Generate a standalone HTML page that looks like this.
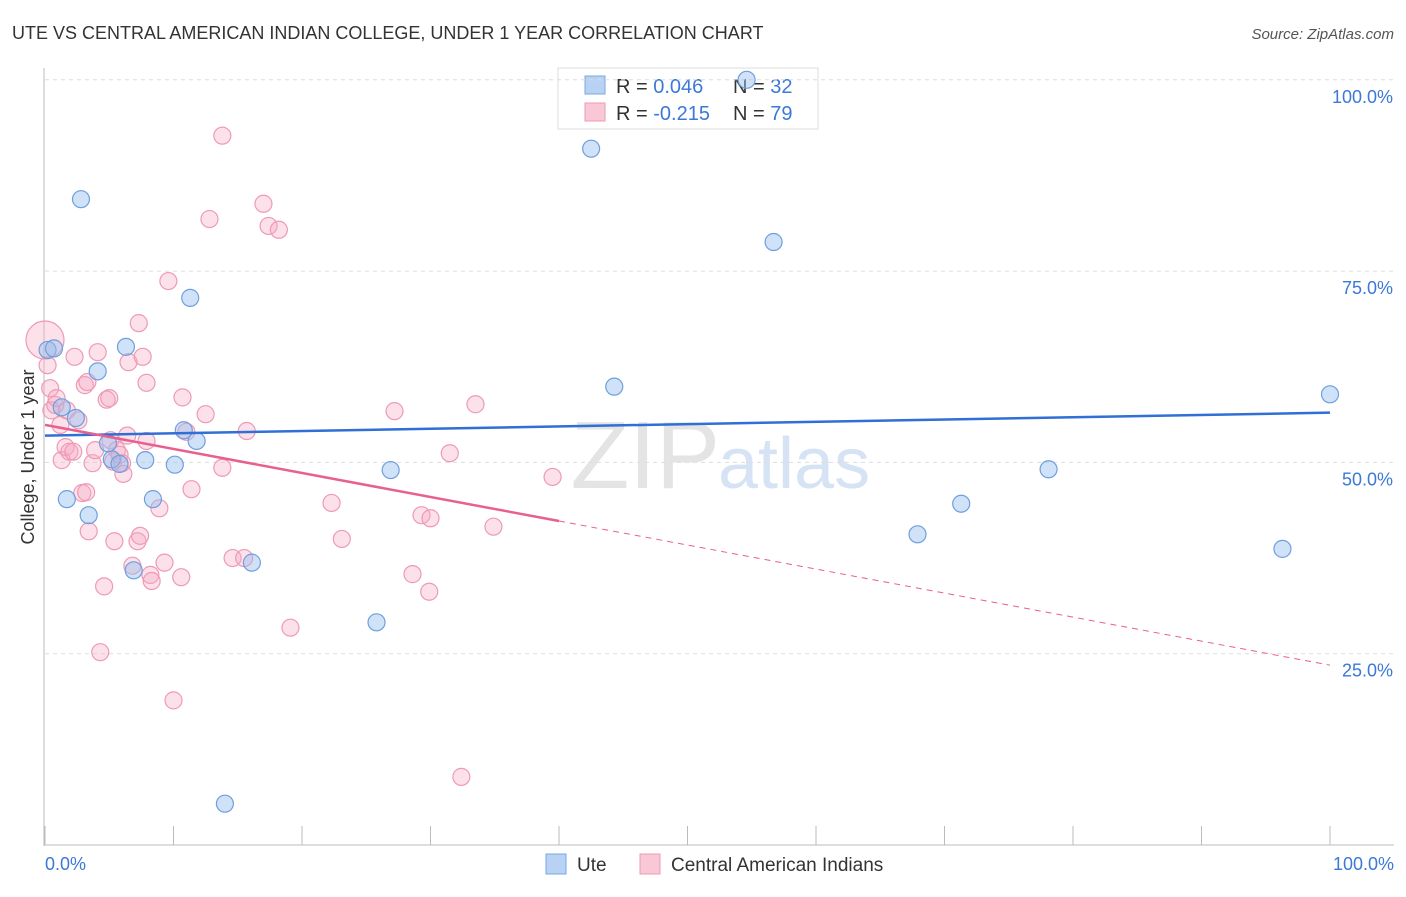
<!DOCTYPE html>
<html><head><meta charset="utf-8"><style>
body{margin:0;background:#fff;font-family:"Liberation Sans",sans-serif}
svg text{font-family:"Liberation Sans",sans-serif}
</style></head><body>
<svg id="chart" width="1406" height="892">
<text x="12" y="39" font-size="18" fill="#333">UTE VS CENTRAL AMERICAN INDIAN COLLEGE, UNDER 1 YEAR CORRELATION CHART</text>
<text x="1394" y="39" font-size="15" fill="#555" font-style="italic" text-anchor="end">Source: ZipAtlas.com</text>
<text x="720" y="488" font-size="96" fill="#e4e4e4" font-family="Liberation Serif" text-anchor="end">ZIP</text>
<text x="718" y="488" font-size="72" fill="#d6e3f5">atlas</text>
<g>
<rect x="558" y="68" width="260" height="61" fill="#fff" stroke="#ddd"/>
<rect x="585" y="76" width="20" height="18" fill="#b8d2f3" stroke="#7aa8e0"/>
<rect x="585" y="103" width="20" height="18" fill="#f8c8d7" stroke="#ee9ab5"/>
<text x="616" y="93" font-size="20" fill="#333">R = <tspan fill="#3b78d8">0.046</tspan></text>
<text x="733" y="93" font-size="20" fill="#333">N = <tspan fill="#3b78d8">32</tspan></text>
<text x="616" y="120" font-size="20" fill="#333">R = <tspan fill="#3b78d8">-0.215</tspan></text>
<text x="733" y="120" font-size="20" fill="#333">N = <tspan fill="#3b78d8">79</tspan></text>
</g>
<g id="grid"></g><g id="axes"></g><g id="pts"></g><g id="lines"></g>
<text transform="translate(34,457) rotate(-90)" font-size="18" fill="#333" text-anchor="middle">College, Under 1 year</text>
<g>
<rect x="546" y="854" width="20" height="20" fill="#b8d2f3" stroke="#7aa8e0"/>
<text x="577" y="871" font-size="19" fill="#333">Ute</text>
<rect x="640" y="854" width="20" height="20" fill="#f8c8d7" stroke="#ee9ab5"/>
<text x="671" y="871" font-size="19" fill="#333">Central American Indians</text>
</g>
</svg>
<script>
const uteX=[0.2,0.7,2.8,1.7,3.4,4.1,2.4,5.2,5.8,6.3,7.8,8.4,6.9,10.1,10.8,11.3,11.8,14.0,16.1,25.8,26.9,42.5,44.3,54.6,56.7,67.9,71.3,78.1,96.3,100,4.9,1.3];
const uteY=[64.7,64.9,84.4,45.2,43.1,61.9,55.8,50.4,49.8,65.1,50.3,45.2,35.9,49.7,54.2,71.5,52.8,5.4,36.9,29.1,49.0,91.0,59.9,100,78.8,40.6,44.6,49.1,38.7,58.9,52.5,57.2];
const caiX=[0,0.2,0.4,0.5,0.8,0.9,1.2,1.3,1.6,1.7,1.9,2.2,2.3,2.6,2.9,3.1,3.2,3.3,3.4,3.7,3.9,4.1,4.3,4.6,4.8,5.0,5.1,5.3,5.4,5.6,5.8,6.0,6.1,6.4,6.5,6.8,7.2,7.3,7.4,7.6,7.9,7.9,8.2,8.3,8.9,9.3,9.6,10.0,10.6,10.7,11.0,11.4,12.5,12.8,13.8,13.8,14.6,15.5,15.7,17.0,17.4,18.2,19.1,22.3,23.1,27.2,28.6,29.3,29.9,30.0,31.5,32.4,33.5,34.9,39.5];
const caiY=[66.0,62.7,59.7,56.8,57.5,58.4,54.9,50.3,52.0,56.8,51.4,51.4,63.8,55.5,46.0,60.1,46.1,60.5,41.0,49.9,51.6,64.4,25.2,33.8,58.2,58.4,52.9,50.1,39.7,51.6,51.0,49.9,48.5,53.5,63.1,36.5,39.7,68.2,40.4,63.8,52.8,60.4,35.3,34.5,44.0,36.9,73.7,18.9,35.0,58.5,54.0,46.5,56.3,81.8,92.7,49.3,37.5,37.5,54.1,83.8,80.9,80.4,28.4,44.7,40.0,56.7,35.4,43.1,33.1,42.7,51.2,8.9,57.6,41.6,48.1];
const yTicks=[25,50,75,100];
const yTickLabels=["25.0%","50.0%","75.0%","100.0%"];
const xTicks=[0,10,20,30,40,50,60,70,80,90,100];
const uteTrend=[53.5,56.5];
const caiTrend=[54.9,23.5];
const caiSolidEnd=40;
const NS="http://www.w3.org/2000/svg";
const sx=v=>45+v*12.85, sy=v=>845-v*7.652;
function mk(p,t,a){const e=document.createElementNS(NS,t);for(const k in a)e.setAttribute(k,a[k]);document.getElementById(p).appendChild(e);return e;}
yTicks.forEach((t,i)=>{
 const l=mk('grid','line',{x1:45,x2:1394,y1:sy(t),y2:sy(t),stroke:'#ddd','stroke-dasharray':'4,4'});
 
 
 const tx=mk('axes','text',{x:1393,y:sy(t)+23,'font-size':18,fill:'#3b78d8','text-anchor':'end'});
 tx.textContent=yTickLabels[i];
 
 
});
const ax=mk('axes','line',{x1:44,x2:44,y1:68,y2:846,stroke:'#bbb'});


const bx=mk('axes','line',{x1:44,x2:1394,y1:845,y2:845,stroke:'#bbb'});


xTicks.forEach(t=>{const l=mk('axes','line',{x1:sx(t),x2:sx(t),y1:826,y2:845,stroke:'#bbb'});
 
 });
[[0,'0.0%','start',45],[100,'100.0%','end',1394]].forEach(d=>{const t=mk('axes','text',{x:d[3],y:870,'font-size':18,fill:'#3b78d8','text-anchor':d[2]});t.textContent=d[1];
 
 });
caiX.forEach((x,i)=>{const c=mk('pts','circle',{cx:sx(x),cy:sy(caiY[i]),r:i==0?19:8.5,fill:'rgba(246,170,195,0.35)',stroke:'#ee9ab5','stroke-width':1.2});
 
 });
uteX.forEach((x,i)=>{const c=mk('pts','circle',{cx:sx(x),cy:sy(uteY[i]),r:8.5,fill:'rgba(150,190,240,0.45)',stroke:'#6f9fdd','stroke-width':1.2});
 
 });
const ul=mk('lines','line',{x1:sx(0),y1:sy(uteTrend[0]),x2:sx(100),y2:sy(uteTrend[1]),stroke:'#2f6fd6','stroke-width':2.5});


const cm=caiTrend[0]+(caiTrend[1]-caiTrend[0])*caiSolidEnd/100;
const cl=mk('lines','line',{x1:sx(0),y1:sy(caiTrend[0]),x2:sx(caiSolidEnd),y2:sy(cm),stroke:'#e8608e','stroke-width':2.5});


const cd=mk('lines','line',{x1:sx(caiSolidEnd),y1:sy(cm),x2:sx(100),y2:sy(caiTrend[1]),stroke:'#e8608e','stroke-width':1,'stroke-dasharray':'6,5'});


</script>
</body></html>
